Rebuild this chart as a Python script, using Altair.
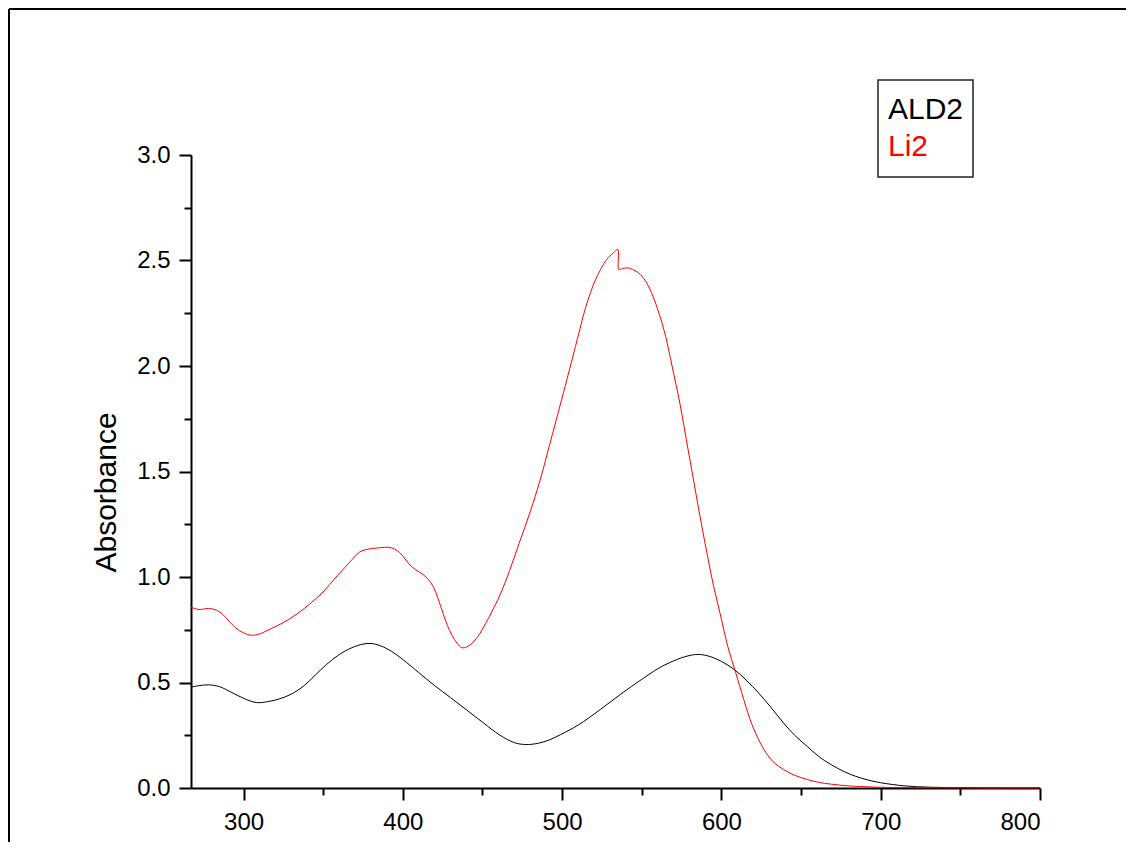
import altair as alt
import pandas as pd

# ---- data ----
series_names = ["ALD2", "Li2"]
series_colors = ["#000000", "#ff0000"]

ald2_wavelength = [267, 272, 278, 285, 292, 300, 308, 315, 322, 330, 338, 345, 352, 360,
                   368, 375, 380, 386, 393, 400, 410, 420, 430, 440, 450, 461, 470, 477,
                   485, 492, 499, 510, 524, 537, 550, 560, 568, 577, 585, 592, 600, 608,
                   616, 623, 631, 639, 646, 654, 661, 669, 677, 684, 692, 700, 715, 730,
                   745, 760, 780, 800]
ald2_absorbance = [0.478, 0.485, 0.489, 0.480, 0.455, 0.425, 0.405, 0.409, 0.421, 0.445,
                   0.485, 0.535, 0.585, 0.632, 0.665, 0.682, 0.685, 0.674, 0.647, 0.609,
                   0.547, 0.485, 0.428, 0.370, 0.312, 0.250, 0.215, 0.206, 0.212, 0.228,
                   0.253, 0.298, 0.372, 0.446, 0.515, 0.565, 0.596, 0.622, 0.633, 0.625,
                   0.600, 0.562, 0.508, 0.453, 0.383, 0.308, 0.250, 0.196, 0.150, 0.110,
                   0.078, 0.056, 0.038, 0.025, 0.010, 0.004, 0.002, 0.001, 0.0, 0.0]

li2_wavelength = [267, 272, 278, 283, 287, 291, 295, 300, 305, 310, 314, 318, 323, 328,
                  333, 338, 343, 349, 354, 359, 364, 369, 373, 377, 381, 386, 391, 395,
                  398, 401, 404, 408, 413, 416, 419, 422, 425, 428, 431, 434, 437, 440,
                  444, 448, 452, 456, 461, 467, 473, 480, 486, 494, 503, 510, 515, 521,
                  528, 532, 535, 535.6, 538, 541, 545, 549, 553, 557, 561, 565, 569, 574,
                  578, 582, 586, 591, 595, 600, 604, 609, 614, 618, 623, 628, 633, 639,
                  646, 654, 661, 669, 680, 690, 710, 740, 770, 800]
li2_absorbance = [0.857, 0.846, 0.851, 0.843, 0.822, 0.790, 0.759, 0.735, 0.724, 0.730,
                  0.743, 0.758, 0.776, 0.797, 0.822, 0.850, 0.882, 0.922, 0.964, 1.008,
                  1.048, 1.090, 1.119, 1.130, 1.135, 1.139, 1.141, 1.132, 1.115, 1.090,
                  1.060, 1.035, 1.010, 0.988, 0.956, 0.900, 0.833, 0.770, 0.722, 0.686,
                  0.665, 0.668, 0.690, 0.728, 0.780, 0.838, 0.915, 1.030, 1.160, 1.310,
                  1.455, 1.680, 1.936, 2.141, 2.283, 2.410, 2.505, 2.535, 2.552, 2.457,
                  2.462, 2.465, 2.455, 2.434, 2.395, 2.331, 2.245, 2.140, 2.000, 1.820,
                  1.650, 1.480, 1.310, 1.110, 0.960, 0.800, 0.670, 0.546, 0.420, 0.325,
                  0.235, 0.167, 0.120, 0.088, 0.060, 0.040, 0.027, 0.018, 0.010, 0.006,
                  0.002, 0.001, 0.0, 0.0]

x_ticks = [300, 350, 400, 450, 500, 550, 600, 650, 700, 750, 800]
y_ticks = [0.0, 0.25, 0.5, 0.75, 1.0, 1.25, 1.5, 1.75, 2.0, 2.25, 2.5, 2.75, 3.0]
x_domain = [267, 800]
y_domain = [0, 3]

# ---- tables ----
df = pd.concat([
    pd.DataFrame({"wavelength": ald2_wavelength, "absorbance": ald2_absorbance,
                  "series": series_names[0], "order": range(len(ald2_wavelength))}),
    pd.DataFrame({"wavelength": li2_wavelength, "absorbance": li2_absorbance,
                  "series": series_names[1], "order": range(len(li2_wavelength))}),
])

FONT = "Liberation Sans"
color_scale = alt.Scale(domain=series_names, range=series_colors)

x_enc = alt.X("wavelength:Q",
              scale=alt.Scale(domain=x_domain, nice=False, zero=False),
              axis=alt.Axis(values=x_ticks, title=None, format="d", grid=False,
                            labelExpr="datum.value % 100 === 0 ? datum.label : ''",
                            tickSize={"condition": {"test": "datum.value % 100 === 0", "value": 12}, "value": 7},
                            labelPadding=10))
y_enc = alt.Y("absorbance:Q",
              scale=alt.Scale(domain=y_domain, nice=False),
              axis=alt.Axis(values=y_ticks, title="Absorbance", format=".1f", grid=False,
                            labelExpr="(datum.value * 2) % 1 === 0 ? datum.label : ''",
                            tickSize={"condition": {"test": "(datum.value * 2) % 1 === 0", "value": 12}, "value": 7},
                            labelPadding=9,
                            titleAngle=270, titleX=-76, titleY=337,
                            titleAlign="center", titleBaseline="alphabetic"))

lines = alt.Chart(df).mark_line(strokeWidth=1, interpolate="catmull-rom").encode(
    x=x_enc,
    y=y_enc,
    color=alt.Color("series:N", scale=color_scale, legend=None),
    detail="series:N",
    order="order:Q",
)

one = pd.DataFrame({"k": [0]})

# outer frame (top and left edges)
frame_top = alt.Chart(one).mark_rule(color="#000000", strokeWidth=2).encode(
    x=alt.value(-182), x2=alt.value(935), y=alt.value(-146))
frame_left = alt.Chart(one).mark_rule(color="#000000", strokeWidth=2).encode(
    x=alt.value(-182), y=alt.value(-146), y2=alt.value(700))

# legend box
legend_box = alt.Chart(one).mark_rect(fill="white", stroke="#222222", strokeWidth=1.5).encode(
    x=alt.value(687), x2=alt.value(782), y=alt.value(-75), y2=alt.value(22))

leg_df0 = pd.DataFrame({"series": [series_names[0]]})
leg_df1 = pd.DataFrame({"series": [series_names[1]]})
legend_text0 = alt.Chart(leg_df0).mark_text(font=FONT, fontSize=30, align="left",
                                            baseline="alphabetic").encode(
    x=alt.value(697), y=alt.value(-36), text="series:N",
    color=alt.Color("series:N", scale=color_scale, legend=None))
legend_text1 = alt.Chart(leg_df1).mark_text(font=FONT, fontSize=30, align="left",
                                            baseline="alphabetic").encode(
    x=alt.value(697), y=alt.value(1), text="series:N",
    color=alt.Color("series:N", scale=color_scale, legend=None))

chart = alt.layer(
    lines, frame_top, frame_left, legend_box, legend_text0, legend_text1
).properties(
    width=849, height=633,
    autosize=alt.AutoSizeParams(type="none"),
    padding={"left": 183, "top": 147, "right": 86, "bottom": 54},
    background="white",
).configure_view(
    strokeWidth=0
).configure_axis(
    domainColor="#000000", domainWidth=2, tickColor="#000000", tickWidth=2,
    labelFont=FONT, labelFontSize=24, labelColor="#000000",
    titleFont=FONT, titleFontSize=30, titleColor="#000000", titleFontWeight="normal",
)

chart.save("out.html", embed_options={"renderer": "svg", "actions": False})
